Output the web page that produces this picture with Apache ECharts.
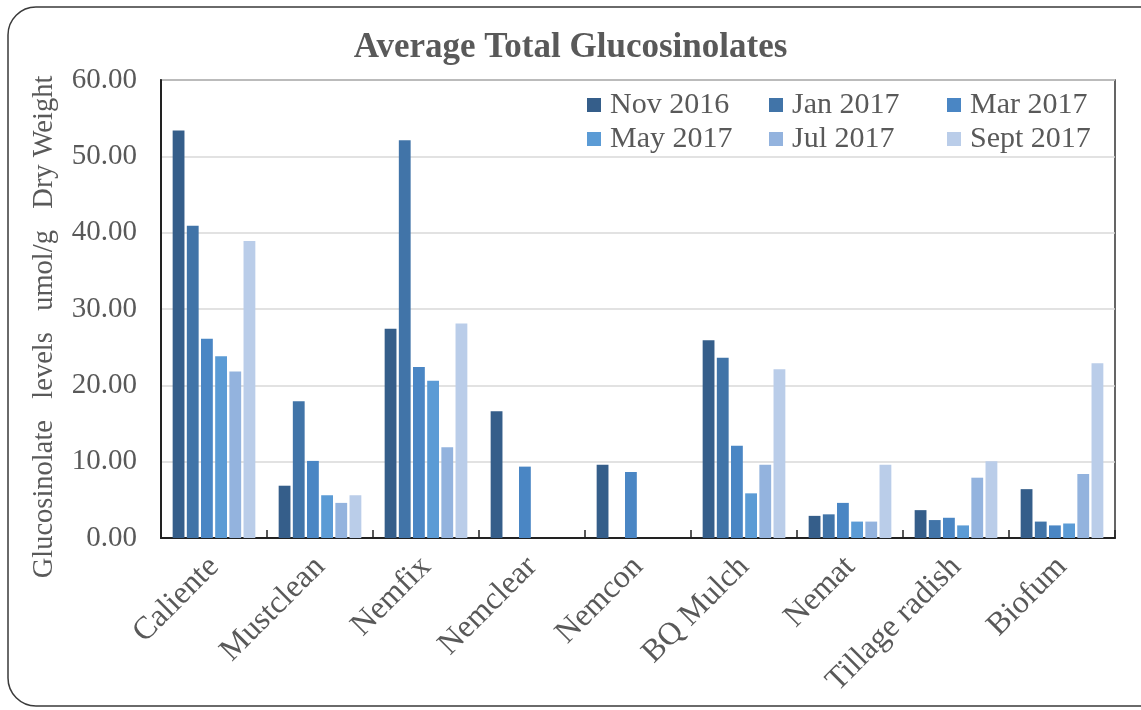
<!DOCTYPE html>
<html>
<head>
<meta charset="utf-8">
<script src="https://cdn.jsdelivr.net/npm/echarts@6/dist/echarts.min.js"></script>
<style>
html,body{margin:0;padding:0;background:#fff;}
#main{width:1141px;height:710px;}
</style>
</head>
<body>
<div id="main"></div>
<script>
var categories = ['Caliente','Mustclean','Nemfix','Nemclear','Nemcon','BQ Mulch','Nemat','Tillage radish','Biofum'];
var seriesNames = ['Nov 2016','Jan 2017','Mar 2017','May 2017','Jul 2017','Sept 2017'];
var nov2016 = [53.4, 6.85, 27.4, 16.6, 9.6, 25.9, 2.9, 3.65, 6.4];
var jan2017 = [40.9, 17.9, 52.1, null, null, 23.6, 3.1, 2.35, 2.15];
var mar2017 = [26.1, 10.1, 22.4, 9.35, 8.65, 12.1, 4.6, 2.65, 1.65];
var may2017 = [23.8, 5.6, 20.6, null, null, 5.85, 2.15, 1.65, 1.9];
var jul2017 = [21.8, 4.6, 11.9, null, null, 9.6, 2.15, 7.9, 8.4];
var sept2017 = [38.9, 5.6, 28.1, null, null, 22.1, 9.6, 10.05, 22.9];
var yTicks = [0, 10, 20, 30, 40, 50, 60];

var seriesData = [nov2016, jan2017, mar2017, may2017, jul2017, sept2017];
var colors = ['#355e8a', '#4174a8', '#4a86c4', '#5b9bd5', '#93b3de', '#bacde9'];
var FONT = '"Liberation Serif", "Times New Roman", serif';
var TXT = '#595959';

var legendPos = [
  {left: 587, top: 90}, {left: 769, top: 90}, {left: 947, top: 90},
  {left: 587, top: 124}, {left: 769, top: 124}, {left: 947, top: 124}
];

var chart = echarts.init(document.getElementById('main'), null, {renderer: 'canvas'});
var option = {
  animation: false,
  backgroundColor: '#fff',
  title: {
    text: 'Average Total Glucosinolates',
    left: 'center',
    top: 30,
    padding: 0,
    textStyle: {fontFamily: FONT, fontSize: 35, fontWeight: 'bold', color: TXT}
  },
  legend: seriesNames.map(function (n, i) {
    return {
      data: [n],
      left: legendPos[i].left,
      top: legendPos[i].top,
      padding: 0,
      icon: 'rect',
      itemWidth: 14,
      itemHeight: 14,
      selectedMode: false,
      textStyle: {fontFamily: FONT, fontSize: 30, color: TXT, padding: [0, 0, 0, 4]}
    };
  }),
  grid: {
    left: 161, right: 26, top: 80, bottom: 172,
    show: true, borderColor: '#333', borderWidth: 1.5,
    containLabel: false
  },
  xAxis: {
    type: 'category',
    data: categories,
    axisLine: {lineStyle: {color: '#222', width: 2}},
    axisTick: {show: true, inside: true, length: 8, alignWithLabel: false, lineStyle: {color: '#222', width: 1.5}},
    axisLabel: {
      rotate: 45, margin: 24, interval: 0,
      fontFamily: FONT, fontSize: 32, color: TXT
    },
    splitLine: {show: false}
  },
  yAxis: {
    type: 'value',
    min: 0, max: 60, interval: 10,
    axisLine: {show: true, lineStyle: {color: '#222', width: 2}},
    axisTick: {show: false},
    axisLabel: {
      margin: 24,
      fontFamily: FONT, fontSize: 29, color: TXT,
      formatter: function (v) { return yTicks.indexOf(v) >= 0 ? v.toFixed(2) : ''; }
    },
    splitLine: {lineStyle: {color: '#d9d9d9', width: 1.5}}
  },
  graphic: [
    {
      type: 'rect', silent: true, z: -10,
      shape: {x: 8, y: 7, width: 1160, height: 699, r: 28},
      style: {fill: 'none', stroke: '#3a3a3a', lineWidth: 1.5}
    },
    {
      type: 'text', silent: true,
      x: 45, y: 327, rotation: Math.PI / 2,
      style: {
        text: 'Glucosinolate   levels   umol/g   Dry Weight',
        fontFamily: FONT, fontSize: 28.5, fill: TXT,
        align: 'center', verticalAlign: 'middle'
      }
    }
  ],
  series: seriesNames.map(function (n, i) {
    return {
      name: n,
      type: 'bar',
      data: seriesData[i],
      barCategoryGap: '22%',
      barGap: '20%',
      itemStyle: {color: colors[i]}
    };
  })
};
chart.setOption(option);
</script>
</body>
</html>
